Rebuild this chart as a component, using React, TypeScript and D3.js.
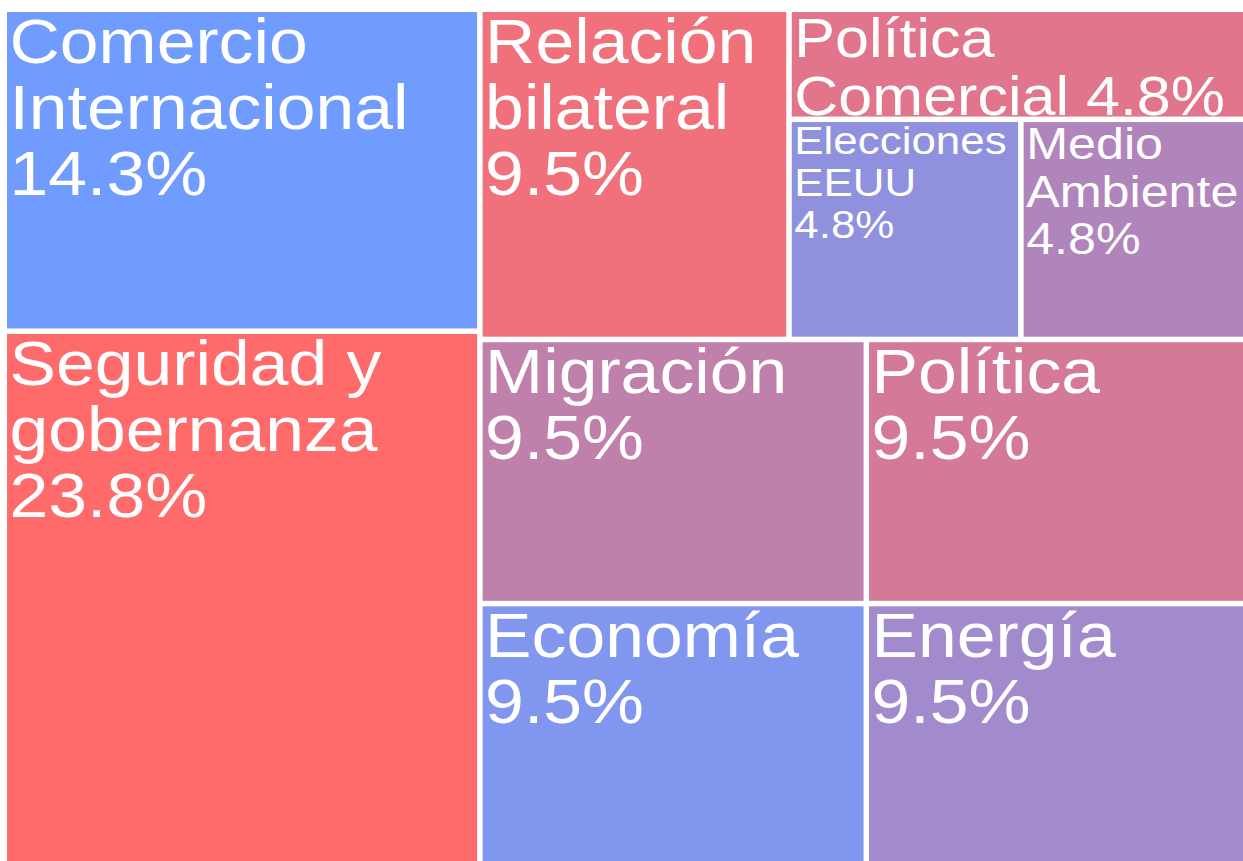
import React, { useMemo } from "react";
import * as d3 from "d3";

// ---- data ----
const categories = [
  "Comercio Internacional",
  "Seguridad y gobernanza",
  "Relación bilateral",
  "Política Comercial",
  "Elecciones EEUU",
  "Medio Ambiente",
  "Migración",
  "Economía",
  "Política",
  "Energía",
];
const mentions = [3, 5, 2, 1, 1, 1, 2, 2, 2, 2];
// tone: 0 = red end, 1 = blue end of the colour scale
const tone = [1.0, 0.0, 0.105, 0.217, 0.78, 0.55, 0.44, 0.89, 0.3, 0.66];
const textTemplates = [
  "Comercio\nInternacional\n{p}",
  "Seguridad y\ngobernanza\n{p}",
  "Relación\nbilateral\n{p}",
  "Política\nComercial {p}",
  "Elecciones\nEEUU\n{p}",
  "Medio\nAmbiente\n{p}",
  "Migración\n{p}",
  "Economía\n{p}",
  "Política\n{p}",
  "Energía\n{p}",
];
// grouping used by the slice-and-dice layout
const groupPaths = [
  "L", "L",
  "R/T", "R/T/S", "R/T/S/P", "R/T/S/P",
  "R/B/1", "R/B/1", "R/B/2", "R/B/2",
];

const W = 1243, H = 861;
const OFF_X = 7, OFF_Y = 12;
const MAP_W = 1243, MAP_H = 853;
const MAX_F = 69.7;
const FONT = '"Liberation Sans", Arial, Helvetica, sans-serif';

type Node = { name: string; value?: number; idx?: number; children?: Node[] };

function buildTree(): Node {
  const root: Node = { name: "root", children: [] };
  categories.forEach((c, i) => {
    let cur = root;
    groupPaths[i].split("/").forEach((seg) => {
      let next = cur.children!.find((ch) => ch.name === "g:" + seg && ch.children);
      if (!next) {
        next = { name: "g:" + seg, children: [] };
        cur.children!.push(next);
      }
      cur = next;
    });
    cur.children!.push({ name: c, value: mentions[i], idx: i });
  });
  return root;
}

const color = d3.interpolateRgb("#ff6b6b", "#709bff");

export default function App() {
  const total = d3.sum(mentions);
  const leaves = useMemo(() => {
    const h = d3.hierarchy<Node>(buildTree()).sum((d) => d.value ?? 0);
    d3.treemap<Node>()
      .tile(d3.treemapSliceDice)
      .size([MAP_W, MAP_H])
      .paddingInner(5.5)
      .round(false)(h);
    return h.leaves() as d3.HierarchyRectangularNode<Node>[];
  }, []);

  const ctx = useMemo(() => {
    const c = document.createElement("canvas").getContext("2d")!;
    c.font = `100px ${FONT}`;
    return c;
  }, []);

  return (
    <svg
      width={W}
      height={H}
      style={{ position: "fixed", left: 0, top: 0, background: "#fff" }}
    >
      <g transform={`translate(${OFF_X},${OFF_Y})`}>
        {leaves.map((lf) => {
          const i = lf.data.idx!;
          const w = lf.x1 - lf.x0;
          const h = lf.y1 - lf.y0;
          const pct = ((mentions[i] / total) * 100).toFixed(1) + "%";
          const lines = textTemplates[i].replace("{p}", pct).split("\n");
          const maxEm = d3.max(lines, (l) => ctx.measureText(l).width / 100)!;
          const n = lines.length;
          const fh = Math.min(MAX_F, (w - 14) / maxEm, (h - 2) / (0.73 + 0.95 * (n - 1)));
          const fv = fh * 0.9;
          return (
            <g key={categories[i]}>
              <rect x={lf.x0} y={lf.y0} width={w} height={h} fill={color(tone[i])} />
              <text
                transform={`translate(${lf.x0 + 2.5},${lf.y0 + 0.73 * fh}) scale(${1 / 0.9},1)`}
                fontFamily={FONT}
                fontSize={fv}
                fill="#fff"
              >
                {lines.map((l, k) => (
                  <tspan key={k} x={0} dy={k === 0 ? 0 : 0.95 * fh}>
                    {l}
                  </tspan>
                ))}
              </text>
            </g>
          );
        })}
      </g>
    </svg>
  );
}
